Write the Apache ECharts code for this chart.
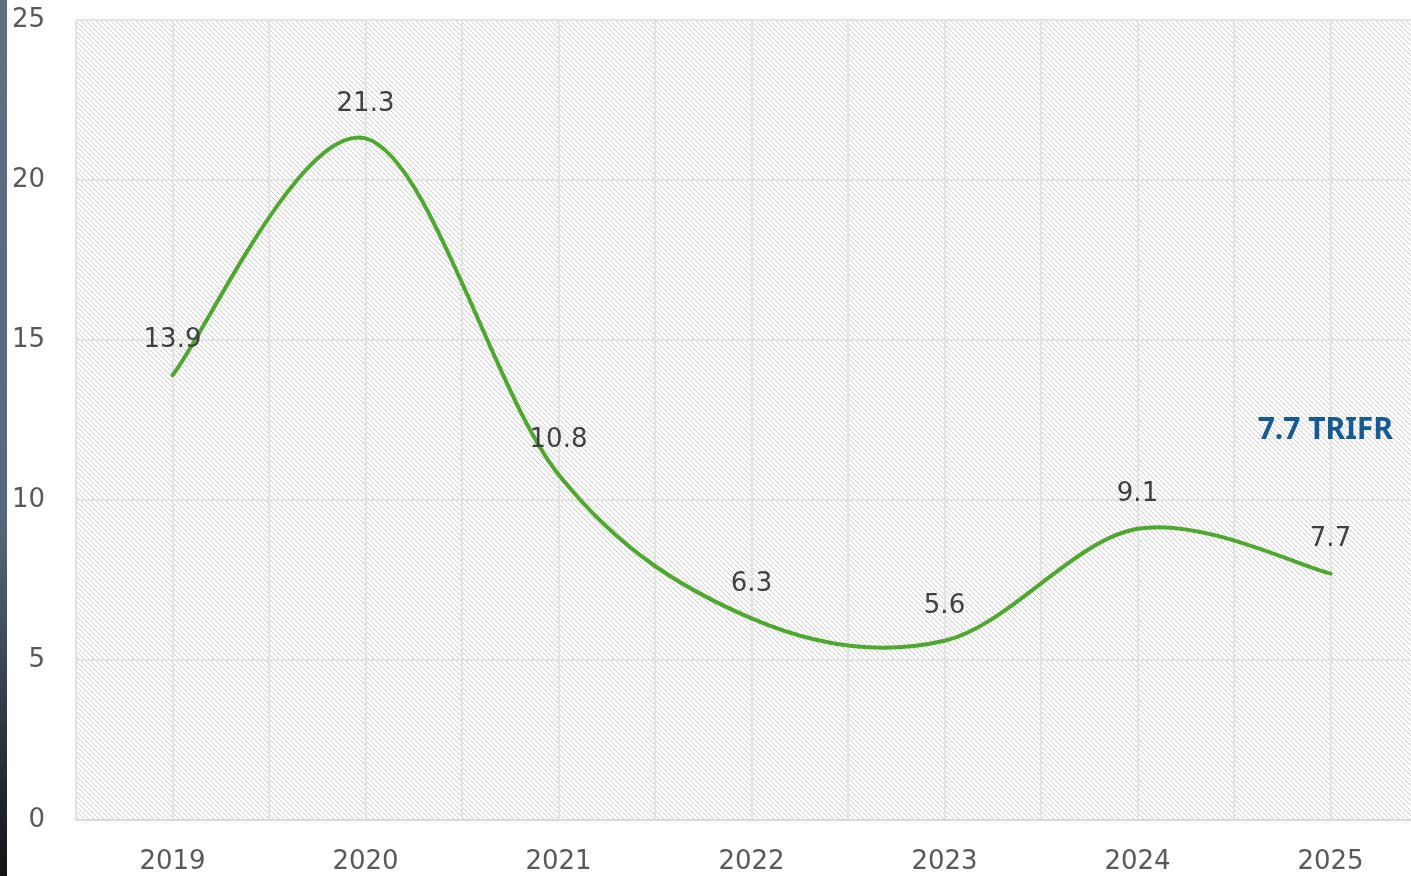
<!DOCTYPE html>
<html>
<head>
<meta charset="utf-8">
<script src="https://cdn.jsdelivr.net/npm/echarts@6/dist/echarts.min.js"></script>
<style>
  html, body { margin: 0; padding: 0; background: #fff; }
  #chart { width: 1411px; height: 876px; }
</style>
</head>
<body>
<div id="chart"></div>
<script>
// data
const years = ['2019', '2020', '2021', '2022', '2023', '2024', '2025']
const trifr = [13.9, 21.3, 10.8, 6.3, 5.6, 9.1, 7.7]
const yTicks = { min: 0, max: 25, interval: 5 }
const halfTicks = years.flatMap(y => [y + 'a', y + 'b']) // for the mid-band grid lines

// hatched plot background
function hatch() {
  const c = document.createElement('canvas')
  c.width = 5; c.height = 5
  const ctx = c.getContext('2d')
  ctx.fillStyle = '#ffffff'
  ctx.fillRect(0, 0, 5, 5)
  ctx.fillStyle = '#cdcdcd'
  for (let i = 0; i < 5; i++) ctx.fillRect(i, i, 1, 1)
  return c
}

// excel-like smoothed line (catmull-rom through the points, in pixel space)
function smoothLine(params, api) {
  if (params.dataIndex !== 0) return null
  const pts = trifr.map((v, i) => api.coord([i, v]))
  const n = pts.length
  let d = 'M' + pts[0][0] + ',' + pts[0][1]
  for (let i = 0; i < n - 1; i++) {
    const p0 = pts[Math.max(i - 1, 0)], p1 = pts[i], p2 = pts[i + 1], p3 = pts[Math.min(i + 2, n - 1)]
    const c1 = [p1[0] + (p2[0] - p0[0]) / 6, p1[1] + (p2[1] - p0[1]) / 6]
    const c2 = [p2[0] - (p3[0] - p1[0]) / 6, p2[1] - (p3[1] - p1[1]) / 6]
    d += ' C' + c1.join(',') + ' ' + c2.join(',') + ' ' + p2.join(',')
  }
  return {
    type: 'path',
    shape: { pathData: d },
    style: { fill: 'none', stroke: '#4ea72e', lineWidth: 4, lineCap: 'round' }
  }
}

const chart = echarts.init(document.getElementById('chart'))
const font = '"DejaVu Sans", "Noto Sans", sans-serif'

chart.setOption({
  animation: false,
  backgroundColor: '#fff',
  grid: {
    left: 76, top: 20, bottom: 56, width: 1351,
    outerBoundsMode: 'none',
    show: true,
    borderWidth: 0,
    backgroundColor: { image: hatch(), repeat: 'repeat' }
  },
  xAxis: [{
    type: 'category',
    data: years,
    boundaryGap: true,
    axisLine: { lineStyle: { color: '#d9d9d9', width: 2 } },
    axisTick: { show: false },
    axisLabel: { color: '#595959', fontSize: 26, fontFamily: font, margin: 29 },
    splitLine: { show: false }
  }, {
    type: 'category',
    data: halfTicks,
    position: 'bottom',
    axisLine: { show: false },
    axisTick: { show: false },
    axisLabel: { show: false },
    splitLine: { show: true, lineStyle: { color: '#e3e3e3', width: 2 } }
  }],
  yAxis: {
    type: 'value',
    min: yTicks.min, max: yTicks.max, interval: yTicks.interval,
    axisLine: { show: false },
    axisTick: { show: false },
    axisLabel: { color: '#595959', fontSize: 26, fontFamily: font, margin: 31 },
    splitLine: { lineStyle: { color: '#e3e3e3', width: 2 } }
  },
  series: [{
    type: 'custom',
    renderItem: smoothLine,
    data: trifr.map((v, i) => [i, v]),
    encode: { x: 0, y: 1 },
    silent: true,
    z: 3
  }, {
    type: 'line',
    data: trifr,
    symbol: 'circle',
    symbolSize: 1,
    itemStyle: { color: 'rgba(0,0,0,0)' },
    lineStyle: { width: 0, opacity: 0 },
    z: 4,
    label: {
      show: true,
      position: 'top',
      distance: 21,
      color: '#404040',
      fontSize: 26,
      fontFamily: font
    }
  }],
  graphic: [{
    type: 'text',
    right: 18,
    top: 415,
    z: 100,
    style: {
      text: '7.7 TRIFR',
      fill: '#165a91',
      font: 'bold 30px "Noto Sans", sans-serif'
    }
  }, {
    type: 'rect',
    left: 0, top: 0,
    z: 100,
    shape: { width: 7, height: 876 },
    style: {
      fill: new echarts.graphic.LinearGradient(0, 0, 0, 1, [
        { offset: 0, color: '#5f7083' },
        { offset: 0.6, color: '#55677a' },
        { offset: 1, color: '#111418' }
      ])
    }
  }]
})
</script>
</body>
</html>
